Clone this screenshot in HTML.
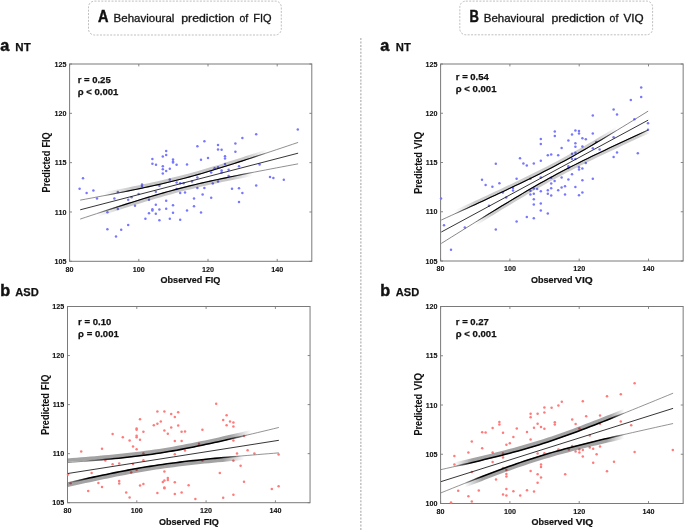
<!DOCTYPE html>
<html><head><meta charset="utf-8"><style>
html,body{margin:0;padding:0;background:#fff;}
body{width:685px;height:531px;overflow:hidden;position:relative;}
svg{position:absolute;left:0;top:0;will-change:transform;}
text{font-family:"Liberation Sans", sans-serif;fill:#111;}
.tl{font-size:7.2px;font-weight:bold;stroke:#111;stroke-width:0.1px;}
.an{font-size:9.5px;font-weight:bold;stroke:#111;stroke-width:0.25px;}
.al{font-size:9.7px;font-weight:bold;stroke:#111;stroke-width:0.2px;}
.tt{font-size:11.2px;stroke:#222;stroke-width:0.32px;}
.big{font-weight:bold;}
.hv{stroke:#111;stroke-width:0.45px;}
.hv2{stroke:#111;stroke-width:0.25px;}
</style></head><body>
<svg width="685" height="531" viewBox="0 0 685 531">
<rect x="88.5" y="1.1" width="192.8" height="33.9" rx="6" ry="6" fill="none" stroke="#b8b8b8" stroke-width="0.9" stroke-dasharray="2 1.4"/>
<rect x="459.8" y="1.1" width="192.8" height="33.7" rx="6" ry="6" fill="none" stroke="#b8b8b8" stroke-width="0.9" stroke-dasharray="2 1.4"/>
<line x1="360.8" y1="38" x2="360.8" y2="531" stroke="#c4c4c4" stroke-width="1.6" stroke-dasharray="2 1.45"/>
<text x="97.9" y="21.6" class="big hv" font-size="16.6" textLength="10.5" lengthAdjust="spacingAndGlyphs">A</text>
<text x="113.6" y="21.9" class="tt" textLength="60.8" lengthAdjust="spacingAndGlyphs">Behavioural</text>
<text x="181.2" y="21.9" class="tt" textLength="53.4" lengthAdjust="spacingAndGlyphs">prediction</text>
<text x="239.4" y="21.9" class="tt" textLength="8.8" lengthAdjust="spacingAndGlyphs">of</text>
<text x="253.2" y="21.9" class="tt" textLength="18.3" lengthAdjust="spacingAndGlyphs">FIQ</text>
<text x="469.6" y="21.6" class="big hv" font-size="16.6" textLength="9.4" lengthAdjust="spacingAndGlyphs">B</text>
<text x="483.8" y="21.9" class="tt" textLength="60.6" lengthAdjust="spacingAndGlyphs">Behavioural</text>
<text x="551.4" y="21.9" class="tt" textLength="53.4" lengthAdjust="spacingAndGlyphs">prediction</text>
<text x="609.6" y="21.9" class="tt" textLength="8.8" lengthAdjust="spacingAndGlyphs">of</text>
<text x="623.4" y="21.9" class="tt" textLength="20.2" lengthAdjust="spacingAndGlyphs">VIQ</text>
<text x="0.2" y="51.1" class="big hv" font-size="16.3">a</text>
<text x="15.3" y="50.7" class="big hv2" font-size="11.8" textLength="15.4" lengthAdjust="spacingAndGlyphs">NT</text>
<text x="380.2" y="51.1" class="big hv" font-size="16.3">a</text>
<text x="395.8" y="50.7" class="big hv2" font-size="11.8" textLength="15.0" lengthAdjust="spacingAndGlyphs">NT</text>
<text x="0.2" y="296.1" class="big hv" font-size="16.2">b</text>
<text x="15.2" y="296.1" class="big hv2" font-size="11.8" textLength="23.5" lengthAdjust="spacingAndGlyphs">ASD</text>
<text x="380.3" y="296.1" class="big hv" font-size="16.2">b</text>
<text x="395.8" y="296.1" class="big hv2" font-size="11.8" textLength="23.4" lengthAdjust="spacingAndGlyphs">ASD</text>
<rect x="69.6" y="64" width="242.2" height="197.3" fill="none" stroke="#7a7a7a" stroke-width="1"/>
<path d="M69.6 261.3v-2.4M69.6 64v2.4M138.8 261.3v-2.4M138.8 64v2.4M208 261.3v-2.4M208 64v2.4M277.2 261.3v-2.4M277.2 64v2.4M69.6 261.3h2.4M311.8 261.3h-2.4M69.6 211.98h2.4M311.8 211.98h-2.4M69.6 162.65h2.4M311.8 162.65h-2.4M69.6 113.33h2.4M311.8 113.33h-2.4M69.6 64h2.4M311.8 64h-2.4" stroke="#7a7a7a" stroke-width="0.9" fill="none"/>
<text x="69.6" y="271.5" class="tl" text-anchor="middle">80</text>
<text x="138.8" y="271.5" class="tl" text-anchor="middle">100</text>
<text x="208" y="271.5" class="tl" text-anchor="middle">120</text>
<text x="277.2" y="271.5" class="tl" text-anchor="middle">140</text>
<text x="66.4" y="263.9" class="tl" text-anchor="end">105</text>
<text x="66.4" y="214.58" class="tl" text-anchor="end">110</text>
<text x="66.4" y="165.25" class="tl" text-anchor="end">115</text>
<text x="66.4" y="115.93" class="tl" text-anchor="end">120</text>
<text x="66.4" y="66.6" class="tl" text-anchor="end">125</text>
<g fill="#7878ff"><circle cx="83" cy="178.2" r="1.25"/><circle cx="79.6" cy="188.8" r="1.25"/><circle cx="86.6" cy="193" r="1.25"/><circle cx="93.4" cy="190.4" r="1.25"/><circle cx="97" cy="198.6" r="1.25"/><circle cx="107.4" cy="212.2" r="1.25"/><circle cx="114.4" cy="198.4" r="1.25"/><circle cx="117.8" cy="192" r="1.25"/><circle cx="117.8" cy="209" r="1.25"/><circle cx="128.2" cy="199.8" r="1.25"/><circle cx="131.6" cy="197.2" r="1.25"/><circle cx="138.6" cy="194" r="1.25"/><circle cx="142" cy="184.4" r="1.25"/><circle cx="142" cy="186" r="1.25"/><circle cx="135" cy="205.8" r="1.25"/><circle cx="149" cy="199.8" r="1.25"/><circle cx="145.4" cy="218.8" r="1.25"/><circle cx="149" cy="213.2" r="1.25"/><circle cx="152.4" cy="209.2" r="1.25"/><circle cx="152.4" cy="210.6" r="1.25"/><circle cx="155.8" cy="204.8" r="1.25"/><circle cx="155.8" cy="213.8" r="1.25"/><circle cx="155.8" cy="191.8" r="1.25"/><circle cx="159.4" cy="185.8" r="1.25"/><circle cx="159.4" cy="209.6" r="1.25"/><circle cx="159.4" cy="220.2" r="1.25"/><circle cx="152.4" cy="159" r="1.25"/><circle cx="152.4" cy="163.8" r="1.25"/><circle cx="156" cy="164.8" r="1.25"/><circle cx="162.8" cy="156.4" r="1.25"/><circle cx="166.2" cy="151" r="1.25"/><circle cx="166.2" cy="155" r="1.25"/><circle cx="162.8" cy="166.2" r="1.25"/><circle cx="162.8" cy="169.2" r="1.25"/><circle cx="162.8" cy="173.4" r="1.25"/><circle cx="166.2" cy="171" r="1.25"/><circle cx="169.8" cy="168.8" r="1.25"/><circle cx="173" cy="159.4" r="1.25"/><circle cx="173" cy="161.4" r="1.25"/><circle cx="173" cy="162.6" r="1.25"/><circle cx="176.6" cy="164.8" r="1.25"/><circle cx="169.8" cy="179.4" r="1.25"/><circle cx="176.6" cy="182.4" r="1.25"/><circle cx="180.2" cy="183.2" r="1.25"/><circle cx="183.6" cy="183.2" r="1.25"/><circle cx="176.6" cy="189" r="1.25"/><circle cx="180.2" cy="193" r="1.25"/><circle cx="187" cy="164.4" r="1.25"/><circle cx="166.2" cy="200.8" r="1.25"/><circle cx="166.2" cy="208.8" r="1.25"/><circle cx="173" cy="205.2" r="1.25"/><circle cx="173" cy="212.8" r="1.25"/><circle cx="169.8" cy="218.8" r="1.25"/><circle cx="180.2" cy="219.8" r="1.25"/><circle cx="187" cy="210.4" r="1.25"/><circle cx="194" cy="198.4" r="1.25"/><circle cx="194" cy="206.2" r="1.25"/><circle cx="197.4" cy="177.4" r="1.25"/><circle cx="197.4" cy="188" r="1.25"/><circle cx="201" cy="159.8" r="1.25"/><circle cx="197.4" cy="146.2" r="1.25"/><circle cx="204.4" cy="141.2" r="1.25"/><circle cx="202.6" cy="194.6" r="1.25"/><circle cx="204.4" cy="188" r="1.25"/><circle cx="201" cy="212.6" r="1.25"/><circle cx="192" cy="181.6" r="1.25"/><circle cx="185" cy="192.6" r="1.25"/><circle cx="107.4" cy="229.2" r="1.25"/><circle cx="121.2" cy="229.8" r="1.25"/><circle cx="128.2" cy="225" r="1.25"/><circle cx="218" cy="145" r="1.25"/><circle cx="218" cy="149.6" r="1.25"/><circle cx="221.6" cy="149.8" r="1.25"/><circle cx="235.4" cy="143.4" r="1.25"/><circle cx="242.4" cy="138" r="1.25"/><circle cx="256.2" cy="134.2" r="1.25"/><circle cx="297.8" cy="129.6" r="1.25"/><circle cx="235.4" cy="151.8" r="1.25"/><circle cx="225" cy="156.2" r="1.25"/><circle cx="225" cy="158.6" r="1.25"/><circle cx="208" cy="158" r="1.25"/><circle cx="225" cy="164" r="1.25"/><circle cx="239" cy="166.2" r="1.25"/><circle cx="214.6" cy="168.2" r="1.25"/><circle cx="218" cy="167.2" r="1.25"/><circle cx="221.6" cy="170.4" r="1.25"/><circle cx="221.6" cy="172.4" r="1.25"/><circle cx="228.6" cy="169.8" r="1.25"/><circle cx="211.2" cy="172.4" r="1.25"/><circle cx="228.6" cy="176" r="1.25"/><circle cx="218" cy="181.4" r="1.25"/><circle cx="212.8" cy="183.4" r="1.25"/><circle cx="211.2" cy="197.8" r="1.25"/><circle cx="232" cy="188.8" r="1.25"/><circle cx="239" cy="188.2" r="1.25"/><circle cx="242.4" cy="193" r="1.25"/><circle cx="239" cy="202" r="1.25"/><circle cx="256.2" cy="185.4" r="1.25"/><circle cx="259.6" cy="164.4" r="1.25"/><circle cx="270" cy="177" r="1.25"/><circle cx="273.4" cy="178" r="1.25"/><circle cx="283.8" cy="179.8" r="1.25"/><circle cx="116" cy="236.4" r="1.25"/></g>
<clipPath id="cP1"><rect x="69.6" y="64" width="242.2" height="197.3"/></clipPath>
<g clip-path="url(#cP1)">
<path d="M80.19 200.14L85.64 199.13L91.08 198.11L96.53 197.08L101.98 196.05L107.43 195.02L112.87 193.97L118.32 192.91L123.77 191.84L129.22 190.75L134.67 189.65L140.11 188.53L145.56 187.39L151.01 186.21L156.46 185.01L161.9 183.78L167.35 182.5L172.8 181.19L178.25 179.83L183.7 178.42L189.14 176.97L194.59 175.47L200.04 173.92L205.49 172.34L210.93 170.72L216.38 169.07L221.83 167.4L227.28 165.7L232.73 163.97L238.17 162.23L243.62 160.48L249.07 158.71L254.52 156.93L259.96 155.14L265.41 153.34L270.86 151.54L276.31 149.72L281.76 147.91L287.2 146.08L292.65 144.26L298.1 142.43" stroke="#606060" stroke-width="0.7" fill="none"/>
<path d="M80.19 219.08L85.64 217.28L91.08 215.48L96.53 213.69L101.98 211.91L107.43 210.13L112.87 208.37L118.32 206.62L123.77 204.88L129.22 203.15L134.67 201.45L140.11 199.76L145.56 198.1L151.01 196.46L156.46 194.86L161.9 193.29L167.35 191.75L172.8 190.26L178.25 188.81L183.7 187.41L189.14 186.05L194.59 184.73L200.04 183.45L205.49 182.2L210.93 180.99L216.38 179.81L221.83 178.65L227.28 177.52L232.73 176.4L238.17 175.3L243.62 174.22L249.07 173.15L254.52 172.08L259.96 171.03L265.41 169.99L270.86 168.95L276.31 167.92L281.76 166.89L287.2 165.87L292.65 164.85L298.1 163.83" stroke="#606060" stroke-width="0.7" fill="none"/>
<defs><linearGradient id="gP1u" gradientUnits="userSpaceOnUse" x1="104.2" y1="0" x2="266.82" y2="0"><stop offset="0" stop-color="#000" stop-opacity="0"/><stop offset="0.170" stop-color="#000" stop-opacity="1"/><stop offset="0.872" stop-color="#000" stop-opacity="1"/><stop offset="1" stop-color="#000" stop-opacity="0"/></linearGradient></defs>
<defs><linearGradient id="gP1uh" gradientUnits="userSpaceOnUse" x1="104.2" y1="0" x2="266.82" y2="0"><stop offset="0" stop-color="#000" stop-opacity="0"/><stop offset="0.170" stop-color="#000" stop-opacity="1"/><stop offset="0.872" stop-color="#000" stop-opacity="1"/><stop offset="1" stop-color="#000" stop-opacity="0"/></linearGradient></defs>
<path d="M104.2 193.63L108.27 192.85L112.33 192.07L116.4 191.29L120.46 190.49L124.53 189.69L128.59 188.88L132.66 188.06L136.72 187.23L140.79 186.39L144.85 185.54L148.92 184.67L152.99 183.78L157.05 182.88L161.12 181.96L165.18 181.02L169.25 180.05L173.31 179.06L177.38 178.05L181.44 177.01L185.51 175.94L189.58 174.85L193.64 173.73L197.71 172.59L201.77 171.43L205.84 170.24L209.9 169.03L213.97 167.81L218.03 166.57L222.1 165.31L226.16 164.04L230.23 162.76L234.3 161.47L238.36 160.17L242.43 158.86L246.49 157.55L250.56 156.22L254.62 154.89L258.69 153.56L262.75 152.22L266.82 150.87" stroke="url(#gP1uh)" stroke-opacity="0.22" stroke-width="3.0" fill="none"/>
<path d="M104.2 195.63L108.27 194.85L112.33 194.07L116.4 193.29L120.46 192.49L124.53 191.69L128.59 190.88L132.66 190.06L136.72 189.23L140.79 188.39L144.85 187.54L148.92 186.67L152.99 185.78L157.05 184.88L161.12 183.96L165.18 183.02L169.25 182.05L173.31 181.06L177.38 180.05L181.44 179.01L185.51 177.94L189.58 176.85L193.64 175.73L197.71 174.59L201.77 173.43L205.84 172.24L209.9 171.03L213.97 169.81L218.03 168.57L222.1 167.31L226.16 166.04L230.23 164.76L234.3 163.47L238.36 162.17L242.43 160.86L246.49 159.55L250.56 158.22L254.62 156.89L258.69 155.56L262.75 154.22L266.82 152.87" stroke="url(#gP1u)" stroke-width="1.15" fill="none"/>
<defs><linearGradient id="gP1l" gradientUnits="userSpaceOnUse" x1="97.28" y1="0" x2="252.98" y2="0"><stop offset="0" stop-color="#000" stop-opacity="0"/><stop offset="0.178" stop-color="#000" stop-opacity="1"/><stop offset="0.867" stop-color="#000" stop-opacity="1"/><stop offset="1" stop-color="#000" stop-opacity="0"/></linearGradient></defs>
<defs><linearGradient id="gP1lh" gradientUnits="userSpaceOnUse" x1="97.28" y1="0" x2="252.98" y2="0"><stop offset="0" stop-color="#000" stop-opacity="0"/><stop offset="0.178" stop-color="#000" stop-opacity="1"/><stop offset="0.867" stop-color="#000" stop-opacity="1"/><stop offset="1" stop-color="#000" stop-opacity="0"/></linearGradient></defs>
<path d="M97.28 215.44L101.17 214.17L105.06 212.9L108.96 211.64L112.85 210.38L116.74 209.12L120.63 207.88L124.53 206.64L128.42 205.4L132.31 204.18L136.2 202.97L140.1 201.76L143.99 200.57L147.88 199.4L151.77 198.23L155.67 197.09L159.56 195.96L163.45 194.85L167.34 193.76L171.24 192.69L175.13 191.64L179.02 190.61L182.91 189.61L186.81 188.63L190.7 187.67L194.59 186.73L198.48 185.81L202.38 184.91L206.27 184.03L210.16 183.16L214.06 182.31L217.95 181.48L221.84 180.65L225.73 179.84L229.62 179.04L233.52 178.24L237.41 177.46L241.3 176.68L245.19 175.91L249.09 175.14L252.98 174.38" stroke="url(#gP1lh)" stroke-opacity="0.22" stroke-width="3.0" fill="none"/>
<path d="M97.28 213.44L101.17 212.17L105.06 210.9L108.96 209.64L112.85 208.38L116.74 207.12L120.63 205.88L124.53 204.64L128.42 203.4L132.31 202.18L136.2 200.97L140.1 199.76L143.99 198.57L147.88 197.4L151.77 196.23L155.67 195.09L159.56 193.96L163.45 192.85L167.34 191.76L171.24 190.69L175.13 189.64L179.02 188.61L182.91 187.61L186.81 186.63L190.7 185.67L194.59 184.73L198.48 183.81L202.38 182.91L206.27 182.03L210.16 181.16L214.06 180.31L217.95 179.48L221.84 178.65L225.73 177.84L229.62 177.04L233.52 176.24L237.41 175.46L241.3 174.68L245.19 173.91L249.09 173.14L252.98 172.38" stroke="url(#gP1l)" stroke-width="1.15" fill="none"/>
<path d="M80.19 209.8L189.14 181.49L298.1 153.18" stroke="#111" stroke-width="0.85" fill="none"/>
</g>
<text x="77.7" y="82.7" class="an" textLength="33.0" lengthAdjust="spacingAndGlyphs">r = 0.25</text>
<text x="77.7" y="95.4" class="an" textLength="40.7" lengthAdjust="spacingAndGlyphs">ρ < 0.001</text>
<text x="160.6" y="282.8" class="al" textLength="41.6" lengthAdjust="spacingAndGlyphs">Observed</text>
<text x="205.3" y="282.8" class="al" textLength="15.1" lengthAdjust="spacingAndGlyphs">FIQ</text>
<text transform="translate(50.4 192.4) rotate(-90)" x="0" y="0" class="al" font-size="10.1" style="font-size:10.1px;stroke-width:0.05px" textLength="41.7" lengthAdjust="spacingAndGlyphs">Predicted</text>
<text transform="translate(50.4 147.6) rotate(-90)" x="0" y="0" class="al" font-size="10.1" style="font-size:10.1px;stroke-width:0.05px" textLength="15.3" lengthAdjust="spacingAndGlyphs">FIQ</text>
<rect x="440.6" y="64" width="242.55" height="197" fill="none" stroke="#7a7a7a" stroke-width="1"/>
<path d="M440.6 261v-2.4M440.6 64v2.4M509.9 261v-2.4M509.9 64v2.4M579.2 261v-2.4M579.2 64v2.4M648.5 261v-2.4M648.5 64v2.4M440.6 261h2.4M683.15 261h-2.4M440.6 211.75h2.4M683.15 211.75h-2.4M440.6 162.5h2.4M683.15 162.5h-2.4M440.6 113.25h2.4M683.15 113.25h-2.4M440.6 64h2.4M683.15 64h-2.4" stroke="#7a7a7a" stroke-width="0.9" fill="none"/>
<text x="440.6" y="271.2" class="tl" text-anchor="middle">80</text>
<text x="509.9" y="271.2" class="tl" text-anchor="middle">100</text>
<text x="579.2" y="271.2" class="tl" text-anchor="middle">120</text>
<text x="648.5" y="271.2" class="tl" text-anchor="middle">140</text>
<text x="437.4" y="263.6" class="tl" text-anchor="end">105</text>
<text x="437.4" y="214.35" class="tl" text-anchor="end">110</text>
<text x="437.4" y="165.1" class="tl" text-anchor="end">115</text>
<text x="437.4" y="115.85" class="tl" text-anchor="end">120</text>
<text x="437.4" y="66.6" class="tl" text-anchor="end">125</text>
<g fill="#7878ff"><circle cx="554.8" cy="131.4" r="1.25"/><circle cx="554.8" cy="136" r="1.25"/><circle cx="572" cy="134.4" r="1.25"/><circle cx="575.4" cy="130.4" r="1.25"/><circle cx="568.4" cy="140.4" r="1.25"/><circle cx="575.4" cy="143.2" r="1.25"/><circle cx="575.4" cy="146.8" r="1.25"/><circle cx="561.6" cy="148" r="1.25"/><circle cx="540.8" cy="139" r="1.25"/><circle cx="540.8" cy="144" r="1.25"/><circle cx="547.8" cy="155.2" r="1.25"/><circle cx="551.2" cy="154.6" r="1.25"/><circle cx="558.2" cy="155.2" r="1.25"/><circle cx="572" cy="153.8" r="1.25"/><circle cx="575.4" cy="152.8" r="1.25"/><circle cx="572" cy="159" r="1.25"/><circle cx="575.4" cy="159" r="1.25"/><circle cx="520" cy="158.2" r="1.25"/><circle cx="523.4" cy="163.4" r="1.25"/><circle cx="526.8" cy="165.6" r="1.25"/><circle cx="533.8" cy="163.4" r="1.25"/><circle cx="540.8" cy="160.8" r="1.25"/><circle cx="495.8" cy="163.8" r="1.25"/><circle cx="482" cy="179.8" r="1.25"/><circle cx="485.6" cy="185" r="1.25"/><circle cx="492.4" cy="186.8" r="1.25"/><circle cx="499.4" cy="183.2" r="1.25"/><circle cx="516.6" cy="178.8" r="1.25"/><circle cx="540.8" cy="177.4" r="1.25"/><circle cx="530.4" cy="178.8" r="1.25"/><circle cx="551.2" cy="177.8" r="1.25"/><circle cx="554.6" cy="181" r="1.25"/><circle cx="561.6" cy="177.4" r="1.25"/><circle cx="568.4" cy="166.2" r="1.25"/><circle cx="568.4" cy="168" r="1.25"/><circle cx="568.4" cy="179.4" r="1.25"/><circle cx="572" cy="174.2" r="1.25"/><circle cx="513" cy="188" r="1.25"/><circle cx="513" cy="190.6" r="1.25"/><circle cx="502.8" cy="192.6" r="1.25"/><circle cx="506.2" cy="197.6" r="1.25"/><circle cx="530.4" cy="190.8" r="1.25"/><circle cx="533.8" cy="188.4" r="1.25"/><circle cx="537.2" cy="189" r="1.25"/><circle cx="540.8" cy="191.2" r="1.25"/><circle cx="530.4" cy="194.4" r="1.25"/><circle cx="533.8" cy="193.8" r="1.25"/><circle cx="547.8" cy="190.2" r="1.25"/><circle cx="551.2" cy="188.2" r="1.25"/><circle cx="551.2" cy="183.6" r="1.25"/><circle cx="558.2" cy="190.2" r="1.25"/><circle cx="561.6" cy="187.6" r="1.25"/><circle cx="565" cy="186.2" r="1.25"/><circle cx="547.8" cy="193.8" r="1.25"/><circle cx="551.2" cy="195.6" r="1.25"/><circle cx="565" cy="194.4" r="1.25"/><circle cx="575.4" cy="187" r="1.25"/><circle cx="533.8" cy="199.2" r="1.25"/><circle cx="441" cy="198.6" r="1.25"/><circle cx="641.2" cy="87.6" r="1.25"/><circle cx="641.2" cy="97" r="1.25"/><circle cx="630.8" cy="100" r="1.25"/><circle cx="613.6" cy="109.4" r="1.25"/><circle cx="617" cy="114.6" r="1.25"/><circle cx="592.8" cy="115.4" r="1.25"/><circle cx="579" cy="131" r="1.25"/><circle cx="579" cy="133.6" r="1.25"/><circle cx="592.8" cy="133.6" r="1.25"/><circle cx="582.4" cy="138.2" r="1.25"/><circle cx="585.8" cy="139.2" r="1.25"/><circle cx="596.2" cy="142" r="1.25"/><circle cx="613.6" cy="137.2" r="1.25"/><circle cx="582.4" cy="146.6" r="1.25"/><circle cx="592.8" cy="148.2" r="1.25"/><circle cx="599.6" cy="149.6" r="1.25"/><circle cx="634.4" cy="119.2" r="1.25"/><circle cx="648" cy="123.2" r="1.25"/><circle cx="648" cy="129.8" r="1.25"/><circle cx="617" cy="152.4" r="1.25"/><circle cx="613.6" cy="157" r="1.25"/><circle cx="637.8" cy="153.2" r="1.25"/><circle cx="585.8" cy="163" r="1.25"/><circle cx="579" cy="167.2" r="1.25"/><circle cx="579" cy="169.6" r="1.25"/><circle cx="582.4" cy="168.6" r="1.25"/><circle cx="582.4" cy="180.2" r="1.25"/><circle cx="592.8" cy="178.8" r="1.25"/><circle cx="533.8" cy="204.6" r="1.25"/><circle cx="540.8" cy="203.6" r="1.25"/><circle cx="540.8" cy="210.4" r="1.25"/><circle cx="547.8" cy="213.6" r="1.25"/><circle cx="526.8" cy="217" r="1.25"/><circle cx="533.8" cy="218.2" r="1.25"/><circle cx="516.6" cy="221.4" r="1.25"/><circle cx="495.8" cy="229.6" r="1.25"/><circle cx="489" cy="205.8" r="1.25"/><circle cx="464.8" cy="227.4" r="1.25"/><circle cx="444" cy="225.2" r="1.25"/><circle cx="451" cy="249.8" r="1.25"/><circle cx="579" cy="195.2" r="1.25"/><circle cx="582.4" cy="192.4" r="1.25"/></g>
<clipPath id="cP2"><rect x="440.6" y="64" width="242.55" height="197"/></clipPath>
<g clip-path="url(#cP2)">
<path d="M441.29 220.03L446.46 217.66L451.64 215.3L456.81 212.93L461.98 210.56L467.15 208.18L472.32 205.8L477.49 203.42L482.67 201.02L487.84 198.63L493.01 196.22L498.18 193.8L503.35 191.37L508.52 188.93L513.69 186.47L518.87 184L524.04 181.5L529.21 178.99L534.38 176.44L539.55 173.86L544.72 171.25L549.89 168.59L555.07 165.89L560.24 163.14L565.41 160.35L570.58 157.5L575.75 154.61L580.92 151.68L586.1 148.7L591.27 145.69L596.44 142.64L601.61 139.57L606.78 136.47L611.95 133.35L617.12 130.21L622.3 127.06L627.47 123.9L632.64 120.72L637.81 117.53L642.98 114.34L648.15 111.14" stroke="#555" stroke-width="0.7" fill="none"/>
<path d="M441.29 243.44L446.46 240.21L451.64 236.98L456.81 233.75L461.98 230.53L467.15 227.31L472.32 224.1L477.49 220.89L482.67 217.7L487.84 214.51L493.01 211.33L498.18 208.17L503.35 205.02L508.52 201.89L513.69 198.78L518.87 195.69L524.04 192.63L529.21 189.6L534.38 186.61L539.55 183.66L544.72 180.75L549.89 177.89L555.07 175.08L560.24 172.32L565.41 169.61L570.58 166.95L575.75 164.32L580.92 161.74L586.1 159.19L591.27 156.67L596.44 154.18L601.61 151.7L606.78 149.25L611.95 146.81L617.12 144.39L622.3 141.97L627.47 139.57L632.64 137.18L637.81 134.79L642.98 132.41L648.15 130.04" stroke="#555" stroke-width="0.7" fill="none"/>
<defs><linearGradient id="gP2u" gradientUnits="userSpaceOnUse" x1="454.46" y1="0" x2="617.32" y2="0"><stop offset="0" stop-color="#000" stop-opacity="0"/><stop offset="0.128" stop-color="#000" stop-opacity="1"/><stop offset="0.872" stop-color="#000" stop-opacity="1"/><stop offset="1" stop-color="#000" stop-opacity="0"/></linearGradient></defs>
<defs><linearGradient id="gP2uh" gradientUnits="userSpaceOnUse" x1="454.46" y1="0" x2="617.32" y2="0"><stop offset="0" stop-color="#000" stop-opacity="0"/><stop offset="0.128" stop-color="#000" stop-opacity="1"/><stop offset="0.872" stop-color="#000" stop-opacity="1"/><stop offset="1" stop-color="#000" stop-opacity="0"/></linearGradient></defs>
<path d="M454.46 212.01L458.53 210.14L462.6 208.27L466.67 206.4L470.75 204.53L474.82 202.65L478.89 200.77L482.96 198.89L487.03 197L491.1 195.11L495.17 193.21L499.25 191.3L503.32 189.39L507.39 187.47L511.46 185.54L515.53 183.6L519.6 181.64L523.67 179.68L527.74 177.7L531.82 175.7L535.89 173.69L539.96 171.66L544.03 169.6L548.1 167.52L552.17 165.41L556.24 163.27L560.32 161.1L564.39 158.9L568.46 156.68L572.53 154.42L576.6 152.13L580.67 149.82L584.74 147.48L588.82 145.12L592.89 142.74L596.96 140.33L601.03 137.91L605.1 135.48L609.17 133.03L613.24 130.57L617.32 128.1" stroke="url(#gP2uh)" stroke-opacity="0.2" stroke-width="3.0" fill="none"/>
<path d="M454.46 214.01L458.53 212.14L462.6 210.27L466.67 208.4L470.75 206.53L474.82 204.65L478.89 202.77L482.96 200.89L487.03 199L491.1 197.11L495.17 195.21L499.25 193.3L503.32 191.39L507.39 189.47L511.46 187.54L515.53 185.6L519.6 183.64L523.67 181.68L527.74 179.7L531.82 177.7L535.89 175.69L539.96 173.66L544.03 171.6L548.1 169.52L552.17 167.41L556.24 165.27L560.32 163.1L564.39 160.9L568.46 158.68L572.53 156.42L576.6 154.13L580.67 151.82L584.74 149.48L588.82 147.12L592.89 144.74L596.96 142.33L601.03 139.91L605.1 137.48L609.17 135.03L613.24 132.57L617.32 130.1" stroke="url(#gP2u)" stroke-width="1.1" fill="none"/>
<defs><linearGradient id="gP2l" gradientUnits="userSpaceOnUse" x1="475.25" y1="0" x2="651.97" y2="0"><stop offset="0" stop-color="#000" stop-opacity="0"/><stop offset="0.098" stop-color="#000" stop-opacity="1"/><stop offset="0.922" stop-color="#000" stop-opacity="1"/><stop offset="1" stop-color="#000" stop-opacity="0"/></linearGradient></defs>
<defs><linearGradient id="gP2lh" gradientUnits="userSpaceOnUse" x1="475.25" y1="0" x2="651.97" y2="0"><stop offset="0" stop-color="#000" stop-opacity="0"/><stop offset="0.098" stop-color="#000" stop-opacity="1"/><stop offset="0.922" stop-color="#000" stop-opacity="1"/><stop offset="1" stop-color="#000" stop-opacity="0"/></linearGradient></defs>
<path d="M475.25 224.28L479.57 221.61L483.9 218.94L488.22 216.27L492.54 213.62L496.86 210.97L501.19 208.34L505.51 205.71L509.83 203.1L514.15 200.5L518.48 197.92L522.8 195.36L527.12 192.82L531.44 190.3L535.77 187.81L540.09 185.35L544.41 182.92L548.73 180.53L553.06 178.17L557.38 175.84L561.7 173.55L566.02 171.29L570.35 169.07L574.67 166.87L578.99 164.7L583.31 162.56L587.64 160.44L591.96 158.34L596.28 156.25L600.61 154.18L604.93 152.13L609.25 150.08L613.57 148.05L617.9 146.03L622.22 144.01L626.54 142L630.86 140L635.19 138L639.51 136.01L643.83 134.02L648.15 132.04" stroke="url(#gP2lh)" stroke-opacity="0.2" stroke-width="3.0" fill="none"/>
<path d="M475.25 222.28L479.57 219.61L483.9 216.94L488.22 214.27L492.54 211.62L496.86 208.97L501.19 206.34L505.51 203.71L509.83 201.1L514.15 198.5L518.48 195.92L522.8 193.36L527.12 190.82L531.44 188.3L535.77 185.81L540.09 183.35L544.41 180.92L548.73 178.53L553.06 176.17L557.38 173.84L561.7 171.55L566.02 169.29L570.35 167.07L574.67 164.87L578.99 162.7L583.31 160.56L587.64 158.44L591.96 156.34L596.28 154.25L600.61 152.18L604.93 150.13L609.25 148.08L613.57 146.05L617.9 144.03L622.22 142.01L626.54 140L630.86 138L635.19 136L639.51 134.01L643.83 132.02L648.15 130.04" stroke="url(#gP2l)" stroke-width="1.1" fill="none"/>
<path d="M441.29 232.04L544.72 176.09L648.15 120.15" stroke="#111" stroke-width="0.85" fill="none"/>
</g>
<text x="455.8" y="79.5" class="an" textLength="33.0" lengthAdjust="spacingAndGlyphs">r = 0.54</text>
<text x="455.8" y="91.9" class="an" textLength="40.7" lengthAdjust="spacingAndGlyphs">ρ < 0.001</text>
<text x="531" y="282.6" class="al" textLength="41.6" lengthAdjust="spacingAndGlyphs">Observed</text>
<text x="575.1" y="282.6" class="al" textLength="17.6" lengthAdjust="spacingAndGlyphs">VIQ</text>
<text transform="translate(421.6 193.8) rotate(-90)" x="0" y="0" class="al" font-size="10.9" style="font-size:10.9px;stroke-width:0.05px" textLength="41.7" lengthAdjust="spacingAndGlyphs">Predicted</text>
<text transform="translate(421.6 149) rotate(-90)" x="0" y="0" class="al" font-size="10.9" style="font-size:10.9px;stroke-width:0.05px" textLength="17.4" lengthAdjust="spacingAndGlyphs">VIQ</text>
<rect x="67.5" y="306.5" width="242.55" height="196.2" fill="none" stroke="#7a7a7a" stroke-width="1"/>
<path d="M67.5 502.7v-2.4M67.5 306.5v2.4M136.8 502.7v-2.4M136.8 306.5v2.4M206.1 502.7v-2.4M206.1 306.5v2.4M275.4 502.7v-2.4M275.4 306.5v2.4M67.5 502.7h2.4M310.05 502.7h-2.4M67.5 453.65h2.4M310.05 453.65h-2.4M67.5 404.6h2.4M310.05 404.6h-2.4M67.5 355.55h2.4M310.05 355.55h-2.4M67.5 306.5h2.4M310.05 306.5h-2.4" stroke="#7a7a7a" stroke-width="0.9" fill="none"/>
<text x="67.5" y="512.9" class="tl" text-anchor="middle">80</text>
<text x="136.8" y="512.9" class="tl" text-anchor="middle">100</text>
<text x="206.1" y="512.9" class="tl" text-anchor="middle">120</text>
<text x="275.4" y="512.9" class="tl" text-anchor="middle">140</text>
<text x="64.3" y="505.3" class="tl" text-anchor="end">105</text>
<text x="64.3" y="456.25" class="tl" text-anchor="end">110</text>
<text x="64.3" y="407.2" class="tl" text-anchor="end">115</text>
<text x="64.3" y="358.15" class="tl" text-anchor="end">120</text>
<text x="64.3" y="309.1" class="tl" text-anchor="end">125</text>
<g fill="#ff7a7a"><circle cx="157.4" cy="411.6" r="1.25"/><circle cx="164.4" cy="411.6" r="1.25"/><circle cx="171.2" cy="414" r="1.25"/><circle cx="178.2" cy="412.2" r="1.25"/><circle cx="174.8" cy="417" r="1.25"/><circle cx="140" cy="419.2" r="1.25"/><circle cx="153.8" cy="425.2" r="1.25"/><circle cx="157.4" cy="423.8" r="1.25"/><circle cx="160.8" cy="421.6" r="1.25"/><circle cx="164.4" cy="430.4" r="1.25"/><circle cx="171.2" cy="427.4" r="1.25"/><circle cx="178.2" cy="425.6" r="1.25"/><circle cx="167.8" cy="433.8" r="1.25"/><circle cx="181.6" cy="431.8" r="1.25"/><circle cx="185" cy="431.6" r="1.25"/><circle cx="202.4" cy="429.8" r="1.25"/><circle cx="136.6" cy="428.4" r="1.25"/><circle cx="136.6" cy="429.8" r="1.25"/><circle cx="143.4" cy="431.8" r="1.25"/><circle cx="112.6" cy="434" r="1.25"/><circle cx="122.8" cy="437.2" r="1.25"/><circle cx="136.6" cy="435.8" r="1.25"/><circle cx="136.6" cy="437.2" r="1.25"/><circle cx="140" cy="439.8" r="1.25"/><circle cx="129.6" cy="440.4" r="1.25"/><circle cx="133" cy="446.4" r="1.25"/><circle cx="136.6" cy="449.2" r="1.25"/><circle cx="174.8" cy="441" r="1.25"/><circle cx="181.6" cy="441" r="1.25"/><circle cx="199" cy="443.8" r="1.25"/><circle cx="102" cy="448.8" r="1.25"/><circle cx="81.2" cy="451.6" r="1.25"/><circle cx="174.8" cy="454.2" r="1.25"/><circle cx="185" cy="450.4" r="1.25"/><circle cx="143.4" cy="453.6" r="1.25"/><circle cx="105.4" cy="460.4" r="1.25"/><circle cx="112.6" cy="464.2" r="1.25"/><circle cx="119.2" cy="463.4" r="1.25"/><circle cx="133" cy="464" r="1.25"/><circle cx="143.4" cy="460.2" r="1.25"/><circle cx="202.4" cy="460.6" r="1.25"/><circle cx="91.6" cy="473" r="1.25"/><circle cx="68" cy="474.6" r="1.25"/><circle cx="131.2" cy="472.4" r="1.25"/><circle cx="136.6" cy="469.8" r="1.25"/><circle cx="164.4" cy="471.4" r="1.25"/><circle cx="70.6" cy="483.2" r="1.25"/><circle cx="98.4" cy="483" r="1.25"/><circle cx="102" cy="487" r="1.25"/><circle cx="119.2" cy="481" r="1.25"/><circle cx="119.2" cy="483.6" r="1.25"/><circle cx="140" cy="485.6" r="1.25"/><circle cx="143.4" cy="484" r="1.25"/><circle cx="164.4" cy="480.4" r="1.25"/><circle cx="162.8" cy="482" r="1.25"/><circle cx="167.8" cy="478" r="1.25"/><circle cx="167.8" cy="480" r="1.25"/><circle cx="174.8" cy="482.2" r="1.25"/><circle cx="164.4" cy="487.4" r="1.25"/><circle cx="164.4" cy="488.2" r="1.25"/><circle cx="188.6" cy="485.2" r="1.25"/><circle cx="88.2" cy="491" r="1.25"/><circle cx="126.2" cy="492.6" r="1.25"/><circle cx="129.6" cy="497.4" r="1.25"/><circle cx="157.4" cy="493" r="1.25"/><circle cx="174.8" cy="494" r="1.25"/><circle cx="181.6" cy="492.4" r="1.25"/><circle cx="195.4" cy="499" r="1.25"/><circle cx="216.2" cy="403.8" r="1.25"/><circle cx="226.6" cy="415.2" r="1.25"/><circle cx="223.2" cy="420" r="1.25"/><circle cx="230" cy="421.6" r="1.25"/><circle cx="233.4" cy="422.4" r="1.25"/><circle cx="226.6" cy="425.2" r="1.25"/><circle cx="233.4" cy="426.6" r="1.25"/><circle cx="244" cy="436" r="1.25"/><circle cx="233.4" cy="440.4" r="1.25"/><circle cx="247.6" cy="450.2" r="1.25"/><circle cx="237" cy="453.4" r="1.25"/><circle cx="254.4" cy="453.4" r="1.25"/><circle cx="278.6" cy="454.4" r="1.25"/><circle cx="233.4" cy="460.8" r="1.25"/><circle cx="240.6" cy="465.8" r="1.25"/><circle cx="219.8" cy="473" r="1.25"/><circle cx="244" cy="481.8" r="1.25"/><circle cx="271.8" cy="489" r="1.25"/><circle cx="278.6" cy="486.2" r="1.25"/><circle cx="223.2" cy="497.8" r="1.25"/><circle cx="233.4" cy="494.8" r="1.25"/></g>
<clipPath id="cP3"><rect x="67.5" y="306.5" width="242.55" height="196.2"/></clipPath>
<g clip-path="url(#cP3)">
<path d="M67.5 462.58L72.78 462.17L78.07 461.76L83.35 461.33L88.64 460.9L93.92 460.45L99.2 460L104.49 459.52L109.77 459.03L115.06 458.52L120.34 457.99L125.63 457.43L130.91 456.84L136.19 456.23L141.48 455.57L146.76 454.89L152.05 454.16L157.33 453.39L162.61 452.57L167.9 451.71L173.18 450.81L178.47 449.87L183.75 448.89L189.03 447.87L194.32 446.82L199.6 445.73L204.89 444.62L210.17 443.49L215.46 442.33L220.74 441.16L226.02 439.96L231.31 438.76L236.59 437.54L241.88 436.31L247.16 435.06L252.44 433.81L257.73 432.55L263.01 431.29L268.3 430.02L273.58 428.74L278.87 427.46" stroke="#666" stroke-width="0.7" fill="none"/>
<path d="M67.5 482.88L72.78 481.69L78.07 480.51L83.35 479.34L88.64 478.18L93.92 477.04L99.2 475.91L104.49 474.8L109.77 473.72L115.06 472.65L120.34 471.61L125.63 470.59L130.91 469.61L136.19 468.66L141.48 467.74L146.76 466.86L152.05 466.01L157.33 465.2L162.61 464.43L167.9 463.7L173.18 463L178.47 462.33L183.75 461.69L189.03 461.07L194.32 460.48L199.6 459.92L204.89 459.37L210.17 458.84L215.46 458.32L220.74 457.82L226.02 457.33L231.31 456.85L236.59 456.38L241.88 455.92L247.16 455.47L252.44 455.02L257.73 454.58L263.01 454.14L268.3 453.71L273.58 453.29L278.87 452.87" stroke="#666" stroke-width="0.7" fill="none"/>
<defs><linearGradient id="gP3u" gradientUnits="userSpaceOnUse" x1="81.36" y1="0" x2="247.68" y2="0"><stop offset="0" stop-color="#000" stop-opacity="0"/><stop offset="0.208" stop-color="#000" stop-opacity="1"/><stop offset="0.875" stop-color="#000" stop-opacity="1"/><stop offset="1" stop-color="#000" stop-opacity="0"/></linearGradient></defs>
<defs><linearGradient id="gP3uh" gradientUnits="userSpaceOnUse" x1="53.64" y1="0" x2="251.14" y2="0"><stop offset="0" stop-color="#000" stop-opacity="0"/><stop offset="0.035" stop-color="#000" stop-opacity="1"/><stop offset="0.895" stop-color="#000" stop-opacity="1"/><stop offset="1" stop-color="#000" stop-opacity="0"/></linearGradient></defs>
<path d="M67.5 460.18L72.09 459.82L76.68 459.47L81.27 459.1L85.86 458.73L90.46 458.35L95.05 457.96L99.64 457.56L104.23 457.15L108.82 456.72L113.41 456.28L118 455.83L122.59 455.35L127.18 454.86L131.78 454.34L136.37 453.8L140.96 453.24L145.55 452.65L150.14 452.02L154.73 451.37L159.32 450.68L163.91 449.96L168.5 449.21L173.1 448.43L177.69 447.61L182.28 446.76L186.87 445.89L191.46 444.99L196.05 444.06L200.64 443.12L205.23 442.15L209.82 441.16L214.42 440.16L219.01 439.14L223.6 438.11L228.19 437.07L232.78 436.02L237.37 434.96L241.96 433.88L246.55 432.81L251.14 431.72" stroke="url(#gP3uh)" stroke-opacity="0.36" stroke-width="3.6" fill="none"/>
<path d="M81.36 461.49L85.52 461.16L89.68 460.81L93.83 460.46L97.99 460.1L102.15 459.73L106.31 459.35L110.47 458.96L114.62 458.56L118.78 458.15L122.94 457.72L127.1 457.27L131.26 456.8L135.41 456.32L139.57 455.81L143.73 455.29L147.89 454.73L152.05 454.16L156.2 453.55L160.36 452.92L164.52 452.27L168.68 451.58L172.84 450.87L176.99 450.14L181.15 449.38L185.31 448.59L189.47 447.78L193.63 446.96L197.78 446.11L201.94 445.24L206.1 444.36L210.26 443.47L214.42 442.56L218.57 441.64L222.73 440.71L226.89 439.77L231.05 438.82L235.21 437.86L239.36 436.89L243.52 435.92L247.68 434.94" stroke="url(#gP3u)" stroke-width="1.55" fill="none"/>
<defs><linearGradient id="gP3l" gradientUnits="userSpaceOnUse" x1="67.5" y1="0" x2="240.75" y2="0"><stop offset="0" stop-color="#000" stop-opacity="0"/><stop offset="0.120" stop-color="#000" stop-opacity="1"/><stop offset="0.880" stop-color="#000" stop-opacity="1"/><stop offset="1" stop-color="#000" stop-opacity="0"/></linearGradient></defs>
<defs><linearGradient id="gP3lh" gradientUnits="userSpaceOnUse" x1="53.64" y1="0" x2="244.22" y2="0"><stop offset="0" stop-color="#000" stop-opacity="0"/><stop offset="0.036" stop-color="#000" stop-opacity="1"/><stop offset="0.891" stop-color="#000" stop-opacity="1"/><stop offset="1" stop-color="#000" stop-opacity="0"/></linearGradient></defs>
<path d="M67.5 485.28L71.92 484.29L76.34 483.3L80.75 482.32L85.17 481.34L89.59 480.38L94.01 479.42L98.43 478.48L102.84 477.55L107.26 476.63L111.68 475.73L116.1 474.84L120.51 473.97L124.93 473.12L129.35 472.3L133.77 471.49L138.19 470.71L142.6 469.95L147.02 469.21L151.44 468.51L155.86 467.83L160.28 467.17L164.69 466.54L169.11 465.93L173.53 465.35L177.95 464.79L182.36 464.25L186.78 463.73L191.2 463.23L195.62 462.74L200.04 462.27L204.45 461.81L208.87 461.37L213.29 460.93L217.71 460.51L222.13 460.09L226.54 459.68L230.96 459.28L235.38 458.89L239.8 458.5L244.22 458.12" stroke="url(#gP3lh)" stroke-opacity="0.36" stroke-width="3.6" fill="none"/>
<path d="M67.5 482.88L71.83 481.91L76.16 480.94L80.49 479.97L84.83 479.02L89.16 478.07L93.49 477.13L97.82 476.21L102.15 475.29L106.48 474.39L110.81 473.5L115.14 472.63L119.47 471.78L123.81 470.94L128.14 470.12L132.47 469.32L136.8 468.55L141.13 467.8L145.46 467.07L149.79 466.37L154.12 465.69L158.46 465.04L162.79 464.41L167.12 463.8L171.45 463.22L175.78 462.66L180.11 462.12L184.44 461.6L188.77 461.1L193.11 460.62L197.44 460.15L201.77 459.69L206.1 459.24L210.43 458.81L214.76 458.39L219.09 457.97L223.42 457.57L227.76 457.17L232.09 456.78L236.42 456.4L240.75 456.02" stroke="url(#gP3l)" stroke-width="1.55" fill="none"/>
<path d="M67.5 473.56L173.18 456.94L278.87 440.31" stroke="#111" stroke-width="0.85" fill="none"/>
</g>
<text x="78.1" y="324.7" class="an" textLength="33.2" lengthAdjust="spacingAndGlyphs">r = 0.10</text>
<text x="78.1" y="337.2" class="an" textLength="40.7" lengthAdjust="spacingAndGlyphs">ρ = 0.001</text>
<text x="158.9" y="524.9" class="al" textLength="41.6" lengthAdjust="spacingAndGlyphs">Observed</text>
<text x="203.7" y="524.9" class="al" textLength="15.1" lengthAdjust="spacingAndGlyphs">FIQ</text>
<text transform="translate(48.6 434.8) rotate(-90)" x="0" y="0" class="al" font-size="10.3" style="font-size:10.3px;stroke-width:0.05px" textLength="41.7" lengthAdjust="spacingAndGlyphs">Predicted</text>
<text transform="translate(48.6 389.9) rotate(-90)" x="0" y="0" class="al" font-size="10.3" style="font-size:10.3px;stroke-width:0.05px" textLength="15.3" lengthAdjust="spacingAndGlyphs">FIQ</text>
<rect x="440.6" y="306.5" width="242.55" height="197" fill="none" stroke="#7a7a7a" stroke-width="1"/>
<path d="M440.6 503.5v-2.4M440.6 306.5v2.4M509.9 503.5v-2.4M509.9 306.5v2.4M579.2 503.5v-2.4M579.2 306.5v2.4M648.5 503.5v-2.4M648.5 306.5v2.4M440.6 503.5h2.4M683.15 503.5h-2.4M440.6 454.25h2.4M683.15 454.25h-2.4M440.6 405h2.4M683.15 405h-2.4M440.6 355.75h2.4M683.15 355.75h-2.4M440.6 306.5h2.4M683.15 306.5h-2.4" stroke="#7a7a7a" stroke-width="0.9" fill="none"/>
<text x="440.6" y="513.7" class="tl" text-anchor="middle">80</text>
<text x="509.9" y="513.7" class="tl" text-anchor="middle">100</text>
<text x="579.2" y="513.7" class="tl" text-anchor="middle">120</text>
<text x="648.5" y="513.7" class="tl" text-anchor="middle">140</text>
<text x="437.4" y="506.1" class="tl" text-anchor="end">100</text>
<text x="437.4" y="456.85" class="tl" text-anchor="end">105</text>
<text x="437.4" y="407.6" class="tl" text-anchor="end">110</text>
<text x="437.4" y="358.35" class="tl" text-anchor="end">115</text>
<text x="437.4" y="309.1" class="tl" text-anchor="end">120</text>
<g fill="#ff7a7a"><circle cx="561.8" cy="401.8" r="1.25"/><circle cx="558.4" cy="405.4" r="1.25"/><circle cx="551.6" cy="407.8" r="1.25"/><circle cx="544.4" cy="407.4" r="1.25"/><circle cx="544.4" cy="412.6" r="1.25"/><circle cx="537.6" cy="413.8" r="1.25"/><circle cx="530.6" cy="413.8" r="1.25"/><circle cx="530.6" cy="417.2" r="1.25"/><circle cx="572.2" cy="419.6" r="1.25"/><circle cx="575.6" cy="424" r="1.25"/><circle cx="554.8" cy="422.2" r="1.25"/><circle cx="554.8" cy="424.6" r="1.25"/><circle cx="537.6" cy="423.8" r="1.25"/><circle cx="541" cy="427" r="1.25"/><circle cx="544.4" cy="428.8" r="1.25"/><circle cx="534" cy="427.8" r="1.25"/><circle cx="527" cy="432" r="1.25"/><circle cx="530.6" cy="439.4" r="1.25"/><circle cx="516.8" cy="428.4" r="1.25"/><circle cx="513.4" cy="437" r="1.25"/><circle cx="509.8" cy="443.2" r="1.25"/><circle cx="506.4" cy="444.8" r="1.25"/><circle cx="503" cy="432.8" r="1.25"/><circle cx="499.4" cy="422" r="1.25"/><circle cx="499.4" cy="424.6" r="1.25"/><circle cx="492.6" cy="428" r="1.25"/><circle cx="485.6" cy="432.6" r="1.25"/><circle cx="482.2" cy="432.2" r="1.25"/><circle cx="471.8" cy="441.6" r="1.25"/><circle cx="482.2" cy="448.2" r="1.25"/><circle cx="468.4" cy="452.6" r="1.25"/><circle cx="454.4" cy="456" r="1.25"/><circle cx="454.4" cy="464.4" r="1.25"/><circle cx="492.6" cy="452.6" r="1.25"/><circle cx="503" cy="453.6" r="1.25"/><circle cx="503" cy="457.6" r="1.25"/><circle cx="492.6" cy="462" r="1.25"/><circle cx="537.6" cy="453.6" r="1.25"/><circle cx="544.4" cy="453.2" r="1.25"/><circle cx="558.4" cy="449.6" r="1.25"/><circle cx="572.2" cy="446" r="1.25"/><circle cx="575.6" cy="451.6" r="1.25"/><circle cx="503" cy="468" r="1.25"/><circle cx="506.4" cy="470" r="1.25"/><circle cx="506.4" cy="474" r="1.25"/><circle cx="541" cy="464.6" r="1.25"/><circle cx="541" cy="467" r="1.25"/><circle cx="530.6" cy="471" r="1.25"/><circle cx="537.6" cy="474.2" r="1.25"/><circle cx="565.2" cy="474.2" r="1.25"/><circle cx="471.8" cy="472" r="1.25"/><circle cx="634.6" cy="383.2" r="1.25"/><circle cx="620.8" cy="394.2" r="1.25"/><circle cx="607" cy="396.2" r="1.25"/><circle cx="582.8" cy="401.2" r="1.25"/><circle cx="586.2" cy="416.2" r="1.25"/><circle cx="600" cy="415.6" r="1.25"/><circle cx="600" cy="423.8" r="1.25"/><circle cx="620.8" cy="421.6" r="1.25"/><circle cx="631.2" cy="425.2" r="1.25"/><circle cx="579.4" cy="428.4" r="1.25"/><circle cx="589.8" cy="435.6" r="1.25"/><circle cx="600" cy="446.4" r="1.25"/><circle cx="589.8" cy="447.4" r="1.25"/><circle cx="593.2" cy="448.8" r="1.25"/><circle cx="582.8" cy="450" r="1.25"/><circle cx="579.4" cy="449.4" r="1.25"/><circle cx="579.4" cy="452.6" r="1.25"/><circle cx="582.8" cy="456.4" r="1.25"/><circle cx="596.6" cy="454.2" r="1.25"/><circle cx="634.6" cy="452" r="1.25"/><circle cx="672.8" cy="450" r="1.25"/><circle cx="593.2" cy="462.8" r="1.25"/><circle cx="614" cy="461.8" r="1.25"/><circle cx="607" cy="471.2" r="1.25"/><circle cx="568.8" cy="449.4" r="1.25"/><circle cx="496" cy="479.6" r="1.25"/><circle cx="537.6" cy="482.8" r="1.25"/><circle cx="541" cy="477.6" r="1.25"/><circle cx="458.2" cy="490.8" r="1.25"/><circle cx="478.8" cy="490.6" r="1.25"/><circle cx="468.4" cy="496.2" r="1.25"/><circle cx="471.8" cy="501.4" r="1.25"/><circle cx="451" cy="502.6" r="1.25"/><circle cx="506.4" cy="489" r="1.25"/><circle cx="503" cy="494.4" r="1.25"/><circle cx="506.4" cy="495.6" r="1.25"/><circle cx="513.4" cy="491.2" r="1.25"/><circle cx="520.2" cy="495.4" r="1.25"/><circle cx="527" cy="490.2" r="1.25"/><circle cx="534" cy="491.6" r="1.25"/><circle cx="506.4" cy="476.6" r="1.25"/></g>
<clipPath id="cP4"><rect x="440.6" y="306.5" width="242.55" height="197"/></clipPath>
<g clip-path="url(#cP4)">
<path d="M440.95 469.62L446.75 468.31L452.55 467L458.36 465.67L464.16 464.34L469.97 462.99L475.77 461.63L481.57 460.25L487.38 458.84L493.18 457.42L498.99 455.96L504.79 454.47L510.59 452.95L516.4 451.38L522.2 449.76L528 448.08L533.81 446.35L539.61 444.56L545.42 442.7L551.22 440.79L557.02 438.81L562.83 436.78L568.63 434.7L574.44 432.57L580.24 430.4L586.04 428.2L591.85 425.97L597.65 423.71L603.46 421.44L609.26 419.14L615.06 416.83L620.87 414.5L626.67 412.16L632.47 409.81L638.28 407.46L644.08 405.09L649.89 402.72L655.69 400.34L661.49 397.96L667.3 395.57L673.1 393.18" stroke="#666" stroke-width="0.7" fill="none"/>
<path d="M440.95 492.86L446.75 490.52L452.55 488.19L458.36 485.87L464.16 483.57L469.97 481.27L475.77 479L481.57 476.74L487.38 474.51L493.18 472.3L498.99 470.13L504.79 467.99L510.59 465.89L516.4 463.84L522.2 461.84L528 459.9L533.81 458.02L539.61 456.2L545.42 454.44L551.22 452.74L557.02 451.1L562.83 449.5L568.63 447.95L574.44 446.44L580.24 444.96L586.04 443.52L591.85 442.09L597.65 440.69L603.46 439.31L609.26 437.95L615.06 436.59L620.87 435.25L626.67 433.92L632.47 432.6L638.28 431.29L644.08 429.98L649.89 428.68L655.69 427.38L661.49 426.09L667.3 424.8L673.1 423.52" stroke="#666" stroke-width="0.7" fill="none"/>
<defs><linearGradient id="gP4u" gradientUnits="userSpaceOnUse" x1="454.46" y1="0" x2="624.25" y2="0"><stop offset="0" stop-color="#000" stop-opacity="0"/><stop offset="0.102" stop-color="#000" stop-opacity="1"/><stop offset="0.918" stop-color="#000" stop-opacity="1"/><stop offset="1" stop-color="#000" stop-opacity="0"/></linearGradient></defs>
<defs><linearGradient id="gP4uh" gradientUnits="userSpaceOnUse" x1="454.46" y1="0" x2="624.25" y2="0"><stop offset="0" stop-color="#000" stop-opacity="0"/><stop offset="0.102" stop-color="#000" stop-opacity="1"/><stop offset="0.918" stop-color="#000" stop-opacity="1"/><stop offset="1" stop-color="#000" stop-opacity="0"/></linearGradient></defs>
<path d="M454.46 464.16L458.7 463.19L462.95 462.22L467.19 461.24L471.44 460.25L475.68 459.25L479.93 458.24L484.17 457.22L488.42 456.19L492.66 455.14L496.91 454.09L501.15 453.01L505.4 451.91L509.64 450.8L513.88 449.66L518.13 448.5L522.37 447.31L526.62 446.09L530.86 444.84L535.11 443.56L539.35 442.24L543.6 440.89L547.84 439.51L552.09 438.1L556.33 436.65L560.58 435.17L564.82 433.67L569.06 432.14L573.31 430.58L577.55 429.01L581.8 427.41L586.04 425.8L590.29 424.17L594.53 422.53L598.78 420.87L603.02 419.21L607.27 417.53L611.51 415.84L615.76 414.15L620 412.45L624.25 410.74" stroke="url(#gP4uh)" stroke-opacity="0.36" stroke-width="3.6" fill="none"/>
<path d="M454.46 466.56L458.7 465.59L462.95 464.62L467.19 463.64L471.44 462.65L475.68 461.65L479.93 460.64L484.17 459.62L488.42 458.59L492.66 457.54L496.91 456.49L501.15 455.41L505.4 454.31L509.64 453.2L513.88 452.06L518.13 450.9L522.37 449.71L526.62 448.49L530.86 447.24L535.11 445.96L539.35 444.64L543.6 443.29L547.84 441.91L552.09 440.5L556.33 439.05L560.58 437.57L564.82 436.07L569.06 434.54L573.31 432.98L577.55 431.41L581.8 429.81L586.04 428.2L590.29 426.57L594.53 424.93L598.78 423.27L603.02 421.61L607.27 419.93L611.51 418.24L615.76 416.55L620 414.85L624.25 413.14" stroke="url(#gP4u)" stroke-width="1.55" fill="none"/>
<defs><linearGradient id="gP4l" gradientUnits="userSpaceOnUse" x1="464.86" y1="0" x2="624.25" y2="0"><stop offset="0" stop-color="#000" stop-opacity="0"/><stop offset="0.109" stop-color="#000" stop-opacity="1"/><stop offset="0.891" stop-color="#000" stop-opacity="1"/><stop offset="1" stop-color="#000" stop-opacity="0"/></linearGradient></defs>
<defs><linearGradient id="gP4lh" gradientUnits="userSpaceOnUse" x1="464.86" y1="0" x2="624.25" y2="0"><stop offset="0" stop-color="#000" stop-opacity="0"/><stop offset="0.109" stop-color="#000" stop-opacity="1"/><stop offset="0.891" stop-color="#000" stop-opacity="1"/><stop offset="1" stop-color="#000" stop-opacity="0"/></linearGradient></defs>
<path d="M464.86 485.69L468.84 484.12L472.82 482.55L476.81 480.99L480.79 479.45L484.78 477.91L488.76 476.38L492.75 474.87L496.73 473.37L500.72 471.89L504.7 470.42L508.69 468.98L512.67 467.55L516.66 466.15L520.64 464.78L524.63 463.43L528.61 462.1L532.6 460.81L536.58 459.54L540.57 458.31L544.55 457.1L548.53 455.92L552.52 454.77L556.5 453.64L560.49 452.54L564.47 451.46L568.46 450.4L572.44 449.36L576.43 448.33L580.41 447.32L584.4 446.32L588.38 445.34L592.37 444.37L596.35 443.41L600.34 442.45L604.32 441.51L608.31 440.57L612.29 439.64L616.28 438.71L620.26 437.79L624.25 436.88" stroke="url(#gP4lh)" stroke-opacity="0.36" stroke-width="3.6" fill="none"/>
<path d="M464.86 483.29L468.84 481.72L472.82 480.15L476.81 478.59L480.79 477.05L484.78 475.51L488.76 473.98L492.75 472.47L496.73 470.97L500.72 469.49L504.7 468.02L508.69 466.58L512.67 465.15L516.66 463.75L520.64 462.38L524.63 461.03L528.61 459.7L532.6 458.41L536.58 457.14L540.57 455.91L544.55 454.7L548.53 453.52L552.52 452.37L556.5 451.24L560.49 450.14L564.47 449.06L568.46 448L572.44 446.96L576.43 445.93L580.41 444.92L584.4 443.92L588.38 442.94L592.37 441.97L596.35 441.01L600.34 440.05L604.32 439.11L608.31 438.17L612.29 437.24L616.28 436.31L620.26 435.39L624.25 434.48" stroke="url(#gP4l)" stroke-width="1.55" fill="none"/>
<path d="M440.95 481.63L557.02 444.99L673.1 408.35" stroke="#111" stroke-width="0.85" fill="none"/>
</g>
<text x="455.8" y="324.7" class="an" textLength="33.0" lengthAdjust="spacingAndGlyphs">r = 0.27</text>
<text x="455.8" y="337.2" class="an" textLength="40.7" lengthAdjust="spacingAndGlyphs">ρ < 0.001</text>
<text x="531.4" y="524.9" class="al" textLength="41.6" lengthAdjust="spacingAndGlyphs">Observed</text>
<text x="575.7" y="524.9" class="al" textLength="17.6" lengthAdjust="spacingAndGlyphs">VIQ</text>
<text transform="translate(421.6 435.6) rotate(-90)" x="0" y="0" class="al" font-size="10.9" style="font-size:10.9px;stroke-width:0.05px" textLength="41.7" lengthAdjust="spacingAndGlyphs">Predicted</text>
<text transform="translate(421.6 390.3) rotate(-90)" x="0" y="0" class="al" font-size="10.9" style="font-size:10.9px;stroke-width:0.05px" textLength="17.4" lengthAdjust="spacingAndGlyphs">VIQ</text>
</svg>
</body></html>
